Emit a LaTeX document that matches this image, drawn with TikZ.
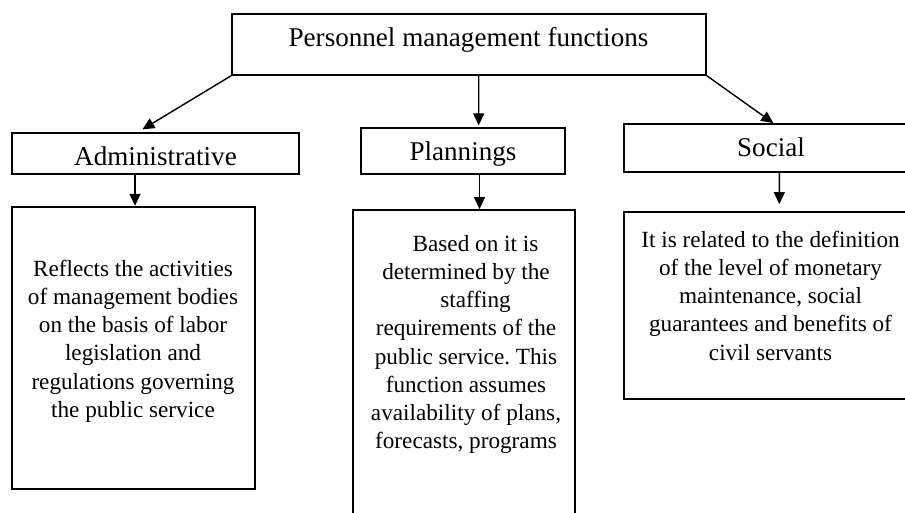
\documentclass[tikz,border=0pt]{standalone}
\usepackage{fontspec}
\setmainfont{Liberation Serif}
\frenchspacing
\usetikzlibrary{arrows.meta}

\tikzset{
  box/.style={draw=black, line width=1.8pt, rectangle, inner sep=0pt},
  headtext/.style={inner sep=0pt, anchor=base, font=\fontsize{27.1}{33}\selectfont},
  bodytext/.style={inner sep=0pt, anchor=base, align=center, font=\fontsize{23.2}{28.2}\selectfont},
  arr/.style={line width=1.4pt, -{Triangle[length=12pt,width=11pt]}}
}

\begin{document}
\begin{tikzpicture}[x=1pt, y=-1pt]
  \useasboundingbox (0,0) rectangle (905,512);
  \clip (0,0) rectangle (905,512);

  % frames
  \node[box, minimum width=473.4pt, minimum height=60.7pt]  (top)    at (469,44.35) {};
  \node[box, minimum width=286.7pt, minimum height=41pt]    (adm)    at (155.65,153.8) {};
  \node[box, minimum width=204.3pt, minimum height=45.7pt]  (plan)   at (462.85,151.15) {};
  \node[box, minimum width=294pt,   minimum height=47.7pt]  (soc)    at (771,147.85) {};
  \node[box, minimum width=242.7pt, minimum height=282.6pt] (admtxt) at (133.65,348) {};
  \node[box, minimum width=221.7pt, minimum height=320pt]   (plantxt) at (464.15,370) {};
  \node[box, minimum width=293.7pt, minimum height=187.6pt] (soctxt) at (771.15,305.5) {};

  % headings
  \node[headtext] (topl)  at (468.5,46.7) {Personnel management functions};
  \node[headtext] (adml)  at (155.5,165)  {Administrative};
  \node[headtext] (planl) at (463,160.7)  {Plannings};
  \node[headtext] (socl)  at (771,156)    {Social};

  % descriptions (placed by the baseline of their last line)
  \node[bodytext] (admd) at (133,417.3) {Reflects the activities\\of management bodies\\on the basis of labor\\legislation and\\regulations governing\\the public service};
  \node[bodytext] (pland) at (466,448.7) {\hspace*{19pt}Based on it is\\determined by the\\\hspace*{19pt}staffing\\requirements of the\\public service. This\\function assumes\\availability of plans,\\forecasts, programs};
  \node[bodytext] (socd) at (770.5,360) {It is related to the definition\\of the level of monetary\\maintenance, social\\guarantees and benefits of\\civil servants};

  % connectors
  \draw[arr] (top.south west) -- ([xshift=131pt,yshift=3pt]adm.north west);
  \draw[arr] ([xshift=9.7pt]top.south) -- ([xshift=15.85pt,yshift=2pt]plan.north);
  \draw[arr] (top.south east) -- ([xshift=2.3pt]soc.north);
  \draw[arr] ([xshift=-20.65pt]adm.south) -- ([xshift=1.35pt]admtxt.north);
  \draw[arr] ([xshift=16.65pt]plan.south) -- ([xshift=15.35pt]plantxt.north);
  \draw[arr] ([xshift=8.3pt]soc.south) -- ([xshift=8.15pt,yshift=6.7pt]soctxt.north);
\end{tikzpicture}
\end{document}
